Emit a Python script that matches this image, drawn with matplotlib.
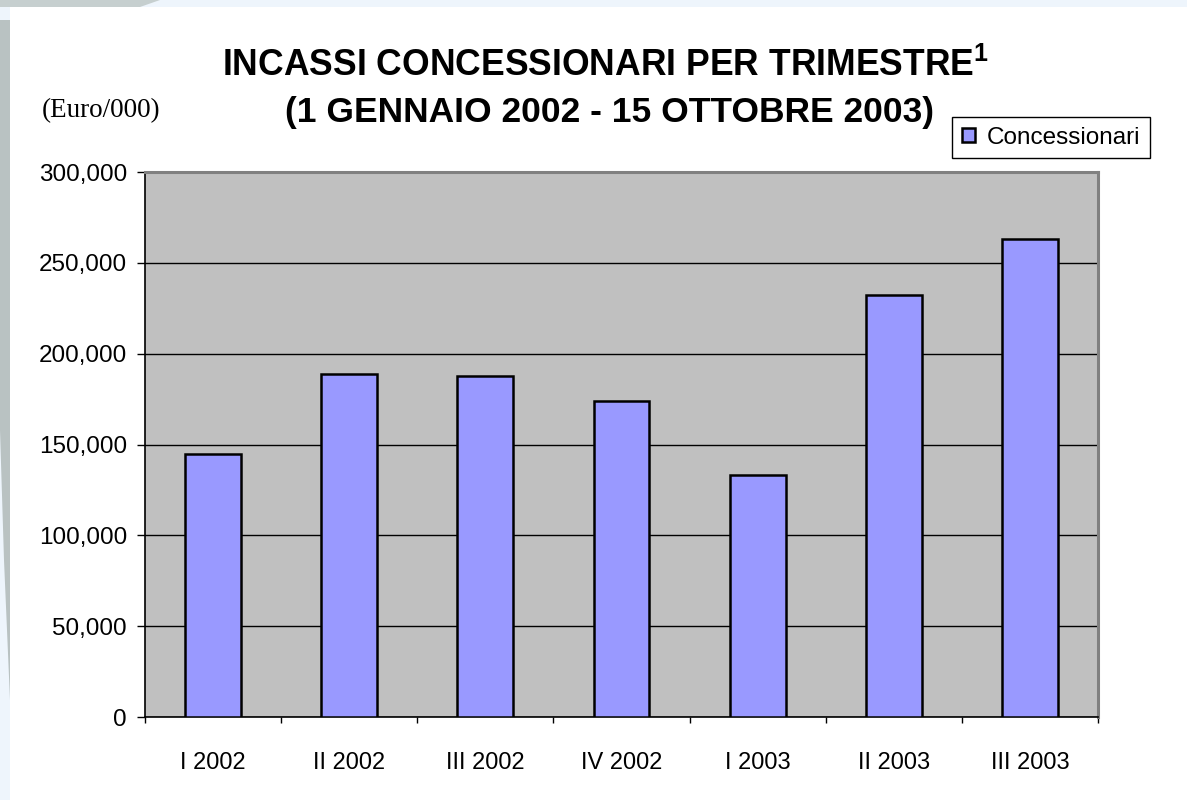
import matplotlib
matplotlib.use("Agg")
import matplotlib.pyplot as plt
from matplotlib.patches import Rectangle, Polygon
from matplotlib.ticker import FuncFormatter, MultipleLocator

# data (Euro/000)
quarters = ["I 2002", "II 2002", "III 2002", "IV 2002", "I 2003", "II 2003", "III 2003"]
incassi = [144500, 188800, 187700, 174000, 133300, 232300, 263100]
series_name = "Concessionari"

plt.rcParams['font.family'] = ['Liberation Sans', 'DejaVu Sans']
plt.rcParams['mathtext.fontset'] = 'custom'
plt.rcParams['mathtext.bf'] = 'Liberation Sans:bold'
plt.rcParams['mathtext.rm'] = 'Liberation Sans'

W, H = 1187, 800
fig = plt.figure(figsize=(W / 100, H / 100), dpi=100, facecolor='#eef5fc')

# slide-like backdrop: white panel with a grey swoosh on the left edge
fig.patches.append(Polygon([(0, 1 - 20 / H), (10 / W, 1 - 20 / H), (10 / W, 1 - 700 / H),
                            (4 / W, 1 - 560 / H), (0, 1 - 430 / H)],
                           closed=True, transform=fig.transFigure, facecolor='#b9c2c2',
                           edgecolor='none', zorder=-3))
fig.patches.append(Polygon([(0, 1), (160 / W, 1), (140 / W, 1 - 7 / H), (0, 1 - 7 / H)],
                           closed=True, transform=fig.transFigure, facecolor='#c6cfcf',
                           edgecolor='none', zorder=-3))
fig.patches.append(Rectangle((10 / W, 0), 1 - 10 / W, 1 - 7 / H, transform=fig.transFigure,
                             facecolor='white', edgecolor='none', zorder=-2))

ax = fig.add_axes([145 / W, 83 / H, (1098 - 145) / W, (717 - 172) / H])
ax.set_facecolor('#c0c0c0')

x = range(len(quarters))
bars = ax.bar(x, incassi, width=0.41, color='#9999ff', edgecolor='black', linewidth=1.8,
              zorder=3, label=series_name)

ax.set_xlim(-0.5, len(quarters) - 0.5)
ax.set_ylim(0, 300000)
ax.yaxis.set_major_locator(MultipleLocator(50000))
ax.yaxis.set_major_formatter(FuncFormatter(lambda v, p: f"{v:,.0f}"))
ax.grid(axis='y', color='black', linewidth=1, zorder=1)

# category labels between boundary ticks
ax.set_xticks([i - 0.5 for i in range(len(quarters) + 1)])
ax.set_xticklabels([])
ax.set_xticks(list(x), minor=True)
ax.set_xticklabels(quarters, minor=True)
ax.tick_params(axis='x', which='major', direction='out', length=4.5, width=1, color='black')
ax.tick_params(axis='x', which='minor', length=0, pad=25, labelsize=17)
ax.tick_params(axis='y', direction='out', length=6, width=1, pad=7, labelsize=17.5)

for side in ('left', 'bottom'):
    ax.spines[side].set_color('black')
    ax.spines[side].set_linewidth(1.2)
for side in ('top', 'right'):
    ax.spines[side].set_color('#808080')
    ax.spines[side].set_linewidth(2.2)

fig.text(606 / W, 1 - 76 / H, r"INCASSI CONCESSIONARI PER TRIMESTRE$^{\mathbf{1}}$",
         ha='center', va='baseline', fontsize=25.6, fontweight='bold')
fig.text(610 / W, 1 - 122 / H, "(1 GENNAIO 2002 - 15 OTTOBRE 2003)",
         ha='center', va='baseline', fontsize=25.5, fontweight='bold')
fig.text(42 / W, 1 - 117 / H, "(Euro/000)", ha='left', va='baseline', fontsize=19.5,
         family=['Liberation Serif', 'DejaVu Serif'])

fig.legend(handles=[bars], labels=[series_name], loc='upper left',
           bbox_to_anchor=(952 / W, 1 - 117 / H), fontsize=17.5, frameon=True,
           fancybox=False, edgecolor='black', framealpha=1, borderpad=0.4,
           handlelength=0.55, handleheight=0.55, handletextpad=0.5, borderaxespad=0)

fig.savefig("out.png", dpi=100, facecolor=fig.get_facecolor())
